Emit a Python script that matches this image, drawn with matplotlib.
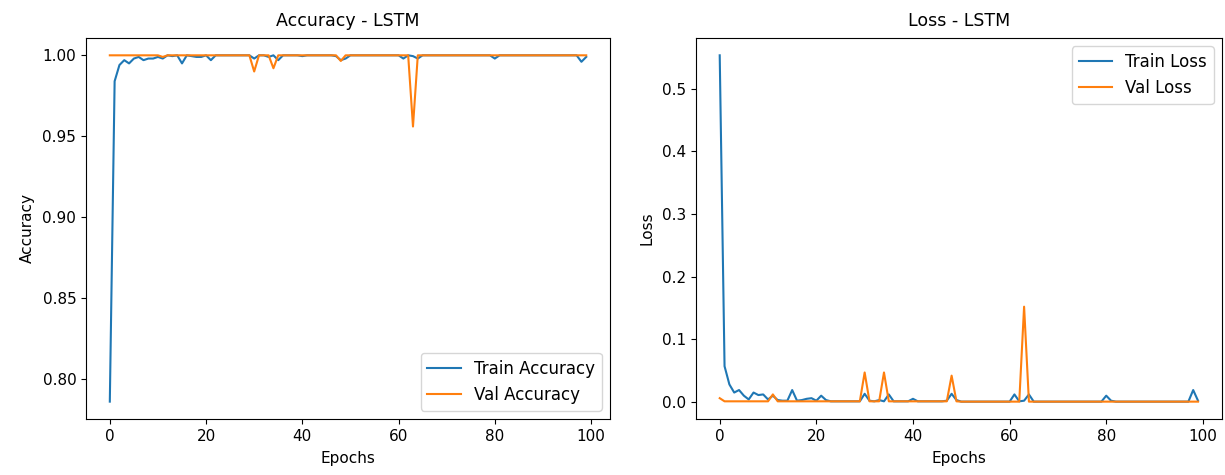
import matplotlib
matplotlib.use('Agg')
import matplotlib.pyplot as plt

model_name = 'LSTM'

# 에포크별 학습 기록
train_acc = [
    0.786, 0.984, 0.994, 0.997, 0.995, 0.998, 0.999, 0.997, 0.998, 0.998,
    0.999, 0.998, 1.000, 0.9995, 1.000, 0.995, 1.000, 0.9995, 0.999, 0.999,
    1.000, 0.997, 1.000, 1.000, 1.000, 1.000, 1.000, 1.000, 1.000, 1.000,
    0.998, 1.000, 1.000, 0.999, 1.000, 0.997, 1.000, 1.000, 1.000, 1.000,
    0.9995, 1.000, 1.000, 1.000, 1.000, 1.000, 1.000, 0.9995, 0.997, 0.998,
    1.000, 1.000, 1.000, 1.000, 1.000, 1.000, 1.000, 1.000, 1.000, 1.000,
    1.000, 0.998, 1.000, 0.9995, 0.998, 1.000, 1.000, 1.000, 1.000, 1.000,
    1.000, 1.000, 1.000, 1.000, 1.000, 1.000, 1.000, 1.000, 1.000, 1.000,
    0.998, 1.000, 1.000, 1.000, 1.000, 1.000, 1.000, 1.000, 1.000, 1.000,
    1.000, 1.000, 1.000, 1.000, 1.000, 1.000, 1.000, 1.000, 0.996, 0.999,
]
val_acc = [
    1.000, 1.000, 1.000, 1.000, 1.000, 1.000, 1.000, 1.000, 1.000, 1.000,
    1.000, 0.999, 1.000, 1.000, 1.000, 1.000, 1.000, 1.000, 1.000, 1.000,
    1.000, 1.000, 1.000, 1.000, 1.000, 1.000, 1.000, 1.000, 1.000, 1.000,
    0.990, 1.000, 1.000, 1.000, 0.992, 1.000, 1.000, 1.000, 1.000, 1.000,
    1.000, 1.000, 1.000, 1.000, 1.000, 1.000, 1.000, 1.000, 0.9965, 1.000,
    1.000, 1.000, 1.000, 1.000, 1.000, 1.000, 1.000, 1.000, 1.000, 1.000,
    1.000, 1.000, 1.000, 0.956, 1.000, 1.000, 1.000, 1.000, 1.000, 1.000,
    1.000, 1.000, 1.000, 1.000, 1.000, 1.000, 1.000, 1.000, 1.000, 1.000,
    1.000, 1.000, 1.000, 1.000, 1.000, 1.000, 1.000, 1.000, 1.000, 1.000,
    1.000, 1.000, 1.000, 1.000, 1.000, 1.000, 1.000, 1.000, 1.000, 1.000,
]
train_loss = [
    0.553, 0.057, 0.028, 0.015, 0.019, 0.010, 0.004, 0.015, 0.011, 0.012,
    0.004, 0.010, 0.003, 0.002, 0.002, 0.019, 0.002, 0.003, 0.005, 0.006,
    0.002, 0.010, 0.003, 0.001, 0.001, 0.001, 0.001, 0.001, 0.001, 0.001,
    0.013, 0.002, 0.001, 0.003, 0.001, 0.012, 0.001, 0.001, 0.001, 0.001,
    0.005, 0.001, 0.001, 0.001, 0.001, 0.001, 0.001, 0.002, 0.013, 0.003,
    0.0005, 0.0005, 0.0005, 0.0005, 0.0005, 0.0005, 0.0005, 0.0005, 0.0005, 0.0005,
    0.0005, 0.012, 0.001, 0.002, 0.012, 0.0005, 0.0005, 0.0005, 0.0005, 0.0005,
    0.0005, 0.0005, 0.0005, 0.0005, 0.0005, 0.0005, 0.0005, 0.0005, 0.0005, 0.0005,
    0.010, 0.002, 0.0005, 0.0005, 0.0005, 0.0005, 0.0005, 0.0005, 0.0005, 0.0005,
    0.0005, 0.0005, 0.0005, 0.0005, 0.0005, 0.0005, 0.0005, 0.0005, 0.019, 0.002,
]
val_loss = [
    0.006, 0.001, 0.001, 0.001, 0.001, 0.001, 0.001, 0.001, 0.001, 0.001,
    0.001, 0.012, 0.001, 0.001, 0.001, 0.001, 0.001, 0.001, 0.001, 0.001,
    0.001, 0.001, 0.001, 0.001, 0.001, 0.001, 0.001, 0.001, 0.001, 0.001,
    0.047, 0.001, 0.001, 0.001, 0.047, 0.001, 0.001, 0.001, 0.001, 0.001,
    0.001, 0.001, 0.001, 0.001, 0.001, 0.001, 0.001, 0.001, 0.042, 0.001,
    0.0005, 0.0005, 0.0005, 0.0005, 0.0005, 0.0005, 0.0005, 0.0005, 0.0005, 0.0005,
    0.0005, 0.0005, 0.0005, 0.152, 0.0005, 0.0005, 0.0005, 0.0005, 0.0005, 0.0005,
    0.0005, 0.0005, 0.0005, 0.0005, 0.0005, 0.0005, 0.0005, 0.0005, 0.0005, 0.0005,
    0.0005, 0.0005, 0.0005, 0.0005, 0.0005, 0.0005, 0.0005, 0.0005, 0.0005, 0.0005,
    0.0005, 0.0005, 0.0005, 0.0005, 0.0005, 0.0005, 0.0005, 0.0005, 0.0005, 0.0005,
]

epochs = list(range(len(train_acc)))

plt.rcParams['font.size'] = 10.5
plt.rcParams['axes.titlesize'] = 12.5
plt.rcParams['axes.titlepad'] = 9
plt.rcParams['axes.labelsize'] = 11
plt.rcParams['axes.labelpad'] = 5.5
plt.rcParams['xtick.labelsize'] = 11
plt.rcParams['ytick.labelsize'] = 11
plt.rcParams['legend.fontsize'] = 12

fig = plt.figure(figsize=(12.25, 4.75), dpi=100)
ax1 = fig.add_axes([0.0702, 0.118, 0.4278, 0.802])
ax2 = fig.add_axes([0.568, 0.118, 0.4295, 0.802])

ax1.plot(epochs, train_acc, label='Train Accuracy')
ax1.plot(epochs, val_acc, label='Val Accuracy')
ax1.set_title(f'Accuracy - {model_name}')
ax1.set_xlabel('Epochs')
ax1.set_ylabel('Accuracy')
ax1.legend(loc='lower right')

ax2.plot(epochs, train_loss, label='Train Loss')
ax2.plot(epochs, val_loss, label='Val Loss')
ax2.set_title(f'Loss - {model_name}')
ax2.set_xlabel('Epochs')
ax2.set_ylabel('Loss')
ax2.legend(loc='upper right')

plt.savefig('out.png', dpi=100)
plt.close()
